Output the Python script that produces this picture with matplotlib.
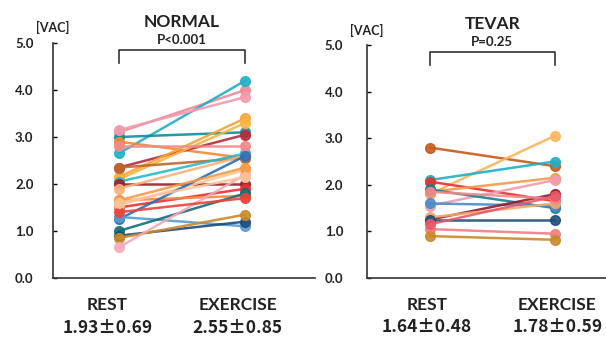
import matplotlib
matplotlib.use("Agg")
import matplotlib.pyplot as plt

plt.rcParams['font.family'] = ['Lato', 'DejaVu Sans']
plt.rcParams['font.weight'] = 'bold'

# NORMAL group: VAC at rest and at exercise, one pair per patient
normal_rest = [3.10, 2.65, 3.00, 3.15, 2.90, 2.35, 2.15, 2.10, 2.35, 2.05,
               2.00, 1.90, 2.80, 1.50, 1.65, 1.55, 1.25, 1.30, 1.00, 0.90,
               0.85, 0.65, 1.40, 1.65, 1.60]
normal_exer = [4.00, 4.20, 3.10, 3.85, 2.55, 3.05, 3.40, 3.30, 2.55, 2.65,
               2.00, 2.60, 2.80, 1.90, 1.75, 2.30, 2.60, 1.10, 1.80, 1.20,
               1.35, 2.20, 1.70, 2.35, 2.15]
normal_colors = ['#f08a9a', '#1fb0c4', '#138c9c', '#f29bb0', '#f5873a', '#b82a3e',
                 '#f7a33a', '#f9b540', '#c0652a', '#2bb8c8', '#9e1f2e', '#f7b27a',
                 '#f28a8a', '#e8312f', '#f58a3c', '#fcc98f', '#2a6fb5', '#5a9bd5',
                 '#136e7a', '#1f4e79', '#c98a2a', '#f7a8b8', '#e8453c', '#f69a4a',
                 '#f9c49a']

# TEVAR group
tevar_rest = [2.80, 1.80, 2.10, 2.07, 1.85, 1.55, 1.90, 1.60, 1.25, 1.30,
              1.25, 1.05, 1.85, 1.15, 0.90]
tevar_exer = [2.40, 3.05, 2.50, 1.65, 2.15, 2.10, 1.50, 1.55, 1.80, 1.60,
              1.25, 0.95, 1.70, 1.75, 0.82]
tevar_colors = ['#c75a1e', '#fbb55e', '#1fb0c4', '#e8312f', '#f69a4a', '#f29bb0',
                '#1a7f8c', '#4a8cc8', '#8e1c2e', '#f7a86a', '#1f4e79', '#f08080',
                '#f28a8a', '#e85a6a', '#c98a2a']

groups = ['NORMAL', 'TEVAR']
pvals = ['P<0.001', 'P=0.25']
labels = [['REST', 'EXERCISE'], ['REST', 'EXERCISE']]
stats = [['1.93\u00b10.69', '2.55\u00b10.85'], ['1.64\u00b10.48', '1.78\u00b10.59']]
yticks = [0.0, 1.0, 2.0, 3.0, 4.0, 5.0]

fig = plt.figure(figsize=(6.06, 3.41), dpi=100)
ax1 = fig.add_axes([53 / 606, 63 / 341, (315 - 53) / 606, 235 / 341])
ax2 = fig.add_axes([367 / 606, 63 / 341, (606 - 367) / 606, 233 / 341])

panels = [
    (ax1, normal_rest, normal_exer, normal_colors, (-0.52, 1.55), 14, [-0.09, 0.94]),
    (ax2, tevar_rest, tevar_exer, tevar_colors, (-0.50, 1.41), 17, [-0.02, 1.02]),
]

for i, (ax, rest, exer, cols, xl, pad, lx) in enumerate(panels):
    for r, e, c in zip(rest, exer, cols):
        ax.plot([0, 1], [r, e], color=c, lw=1.8, alpha=0.9, marker='o',
                ms=7, mec=c, mfc=c, solid_capstyle='round', clip_on=False)
    ax.set_xlim(*xl)
    ax.set_ylim(0, 5)
    ax.set_yticks(yticks)
    ax.set_yticklabels([f'{t:.1f}' for t in yticks], fontsize=9.5, fontweight='bold',
                       color='#222222')
    ax.tick_params(axis='y', direction='in', length=3, width=1, pad=pad)
    ax.set_xticks([])
    for s in ['top', 'right']:
        ax.spines[s].set_visible(False)
    for s in ['left', 'bottom']:
        ax.spines[s].set_linewidth(1.2)
        ax.spines[s].set_color('#333333')

    # bracket with p value
    ax.plot([0, 0, 1, 1], [4.57, 4.86, 4.86, 4.57], color='#333333', lw=1.2, clip_on=False)
    ax.text(0.5, 5.07, pvals[i], ha='center', va='center', fontsize=9.5, fontweight='bold',
            color='#222222')
    ax.text(0.5, 5.45, groups[i], ha='center', va='center', fontsize=12.5, fontweight='bold',
            color='#222222')
    ax.text(xl[0], 5.32, '[VAC]', ha='center', va='center', fontsize=9, fontweight='bold',
            color='#222222')

    for j in range(2):
        ax.text(lx[j], -0.57, labels[i][j], ha='center', va='center', fontsize=12.5,
                fontweight='bold', color='#222222')
        ax.text(lx[j], -1.06, stats[i][j], ha='center', va='center', fontsize=12.5,
                fontweight='bold', color='#222222',
                family=['Noto Sans CJK JP', 'DejaVu Sans'])

fig.savefig('out.png', dpi=100)
